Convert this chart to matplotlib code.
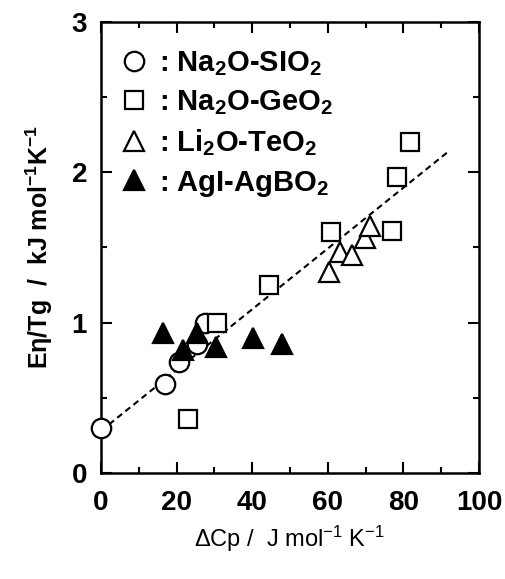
import matplotlib
matplotlib.use("Agg")
import matplotlib.pyplot as plt

# data
na2o_sio2_x = [0, 16.9, 20.7, 25.3, 27.5]
na2o_sio2_y = [0.30, 0.59, 0.74, 0.86, 1.00]

na2o_geo2_x = [23.1, 30.6, 44.5, 60.8, 76.9, 78.2, 81.7]
na2o_geo2_y = [0.36, 1.00, 1.25, 1.60, 1.61, 1.97, 2.20]

li2o_teo2_x = [60.4, 63.2, 66.3, 69.8, 71.2]
li2o_teo2_y = [1.34, 1.47, 1.45, 1.56, 1.64]

agi_agbo2_x = [16.5, 21.8, 25.3, 30.4, 40.1, 48.0]
agi_agbo2_y = [0.93, 0.82, 0.93, 0.84, 0.90, 0.86]

fit_x = [0, 92]
fit_y = [0.28, 2.14]

labels = [
    ": Na$_2$O-SIO$_2$",
    ": Na$_2$O-GeO$_2$",
    ": Li$_2$O-TeO$_2$",
    ": AgI-AgBO$_2$",
]

plt.rcParams["font.family"] = ["Liberation Sans", "DejaVu Sans"]
plt.rcParams["mathtext.default"] = "regular"

fig = plt.figure(figsize=(5.06, 5.79), dpi=100)
ax = fig.add_axes([0.1996, 0.1831, 0.747, 0.779])

ax.plot(fit_x, fit_y, linestyle=(0, (3, 2)), color="black", lw=1.5, zorder=1)

common = dict(linestyle="none", markeredgecolor="black", markeredgewidth=1.6, clip_on=False, zorder=3)
ax.plot(na2o_sio2_x, na2o_sio2_y, marker="o", ms=14, markerfacecolor="white", label=labels[0], **common)
ax.plot(na2o_geo2_x, na2o_geo2_y, marker="s", ms=13, markerfacecolor="white", label=labels[1], **common)
ax.plot(li2o_teo2_x, li2o_teo2_y, marker="^", ms=14, markerfacecolor="white", label=labels[2], **common)
ax.plot(agi_agbo2_x, agi_agbo2_y, marker="^", ms=14, markerfacecolor="black", label=labels[3], **common)

ax.set_xlim(0, 100)
ax.set_ylim(0, 3)
ax.set_xticks([0, 20, 40, 60, 80, 100])
ax.set_xticks(range(10, 100, 20), minor=True)
ax.set_yticks([0, 1, 2, 3])
ax.set_yticks([0.5, 1.5, 2.5], minor=True)

ax.tick_params(which="both", direction="in", top=True, right=True, width=1.5)
ax.tick_params(which="major", length=8, labelsize=20, pad=10)
ax.tick_params(axis="x", which="major", pad=12)
ax.tick_params(which="minor", length=4)
for lab in ax.get_xticklabels() + ax.get_yticklabels():
    lab.set_fontweight("bold")
for sp in ax.spines.values():
    sp.set_linewidth(1.8)

ax.set_xlabel("ΔCp /  J mol$^{-1}$ K$^{-1}$", fontsize=17, labelpad=6)
ax.set_ylabel("Eη/Tg  /  kJ mol$^{-1}$K$^{-1}$", fontsize=18, fontweight="bold", labelpad=12)

leg = ax.legend(loc="upper left", bbox_to_anchor=(-0.032, 1.013), frameon=False,
                handlelength=0.8, handletextpad=0.45, labelspacing=0.35,
                borderaxespad=0.75, prop={"weight": "bold", "size": 21})

fig.savefig("out.png", dpi=100)
